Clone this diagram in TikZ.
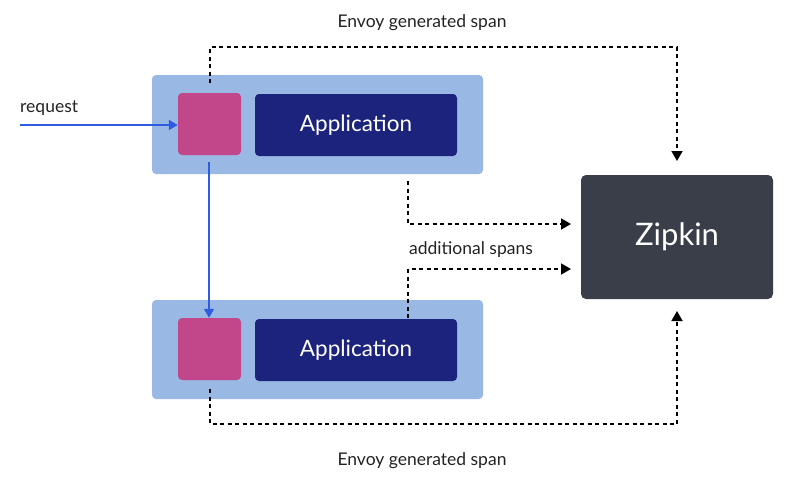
\documentclass[tikz,border=0pt]{standalone}
\usepackage{fontspec}
\setmainfont{Lato}
\usetikzlibrary{arrows.meta,calc}
\definecolor{outerblue}{HTML}{9AB8E4}
\definecolor{proxypink}{HTML}{C1478A}
\definecolor{appnavy}{HTML}{1C237C}
\definecolor{zipgray}{HTML}{393E48}
\definecolor{reqblue}{HTML}{2F5BE0}
\definecolor{labelgray}{HTML}{222222}
\tikzset{
  outerbox/.style={fill=outerblue, rounded corners=4pt, minimum width=331pt, minimum height=99pt, inner sep=0pt},
  proxybox/.style={fill=proxypink, rounded corners=4pt, minimum width=63pt, minimum height=62pt, inner sep=0pt},
  appbox/.style={fill=appnavy, rounded corners=4pt, minimum width=202pt, minimum height=62pt, inner sep=0pt, text=white, font=\fontsize{22.5}{26}\selectfont},
  zipbox/.style={fill=zipgray, rounded corners=5pt, minimum width=192pt, minimum height=124pt, inner sep=0pt, text=white, font=\fontsize{31}{36}\selectfont},
  lbl/.style={text=labelgray, font=\fontsize{17.5}{20}\selectfont, inner sep=0pt},
  reqarrow/.style={draw=reqblue, line width=1.6pt, -{Triangle[length=9pt,width=10pt]}},
  spanline/.style={draw=black, line width=1.8pt, dash pattern=on 4pt off 3.5pt, -{Triangle[length=10pt,width=11pt]}},
}
\begin{document}
\begin{tikzpicture}[x=1pt,y=-1pt]
\useasboundingbox (0,0) rectangle (792,496);
% containers
\node[outerbox] (outer1) at (317.5,124.5) {};
\node[outerbox] (outer2) at (317.5,349.5) {};
\node[proxybox] (pink1) at (209.5,124) {};
\node[proxybox] (pink2) at (209.5,349) {};
\node[appbox] (app1) at (356,125) {Application};
\node[appbox] (app2) at (356,350) {Application};
\node[zipbox] (zipkin) at (677,237) {Zipkin};
% labels
\node[lbl, anchor=west] (reqlbl) at (20,108) {request};
\node[lbl] (toplbl) at (422,23) {Envoy generated span};
\node[lbl] (midlbl) at (471,250) {additional spans};
\node[lbl] (botlbl) at (422,461) {Envoy generated span};
% coordinates
\coordinate (reqstart) at (20,125);
\coordinate (t1) at (210,83);
\coordinate (t2) at (210,47);
\coordinate (t3) at (677,47);
\coordinate (ztop) at (677,161);
\coordinate (m1) at (408,181);
\coordinate (m2) at (408,224);
\coordinate (mz1) at (571,224);
\coordinate (n1) at (408,318);
\coordinate (n2) at (408,269);
\coordinate (mz2) at (571,269);
\coordinate (b1) at (210,389);
\coordinate (b2) at (210,424);
\coordinate (b3) at (677,424);
\coordinate (zbot) at (677,311);
\coordinate (p1) at (209,162);
% request arrows
\draw[reqarrow] (reqstart) -- (reqstart -| pink1.west);
\draw[reqarrow] (p1) -- (p1 |- pink2.north);
% span lines
\draw[spanline] (t1) -- (t2) -- (t3) -- (ztop);
\draw[spanline] (m1) -- (m2) -- (mz1);
\draw[spanline] (n1) -- (n2) -- (mz2);
\draw[spanline] (b1) -- (b2) -- (b3) -- (zbot);
\end{tikzpicture}
\end{document}
